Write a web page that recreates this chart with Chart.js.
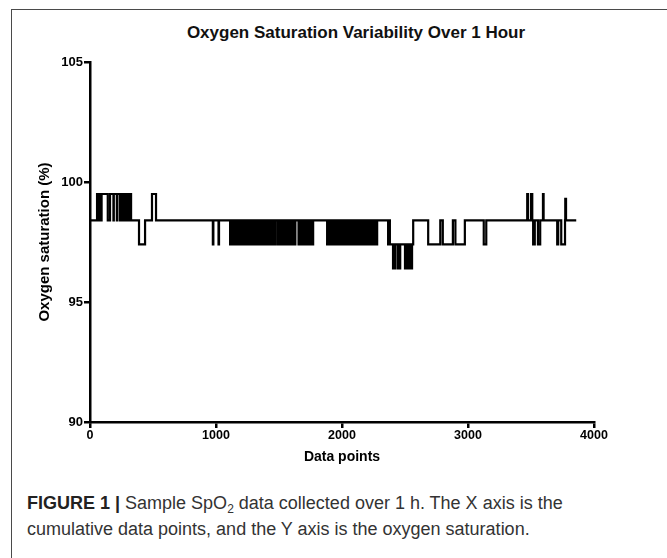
<!DOCTYPE html>
<html>
<head>
<meta charset="utf-8">
<script src="https://cdn.jsdelivr.net/npm/chart.js@4/dist/chart.umd.min.js"></script>
<style>
  html, body { margin: 0; padding: 0; background: #fff; }
  body { width: 667px; height: 558px; position: relative; overflow: hidden; }
  #frame { position: absolute; left: 11px; top: 9px; width: 720px; height: 600px; border: 1px solid #4a4a4a; }
  #title { position: absolute; left: 0; width: 712px; top: 23px; text-align: center;
           font: bold 17px "Liberation Sans", Arial, sans-serif; color: #111; line-height: 20px; }
  #cv { position: absolute; left: 0; top: 0; }
  #caption { position: absolute; left: 27px; top: 490px; font-family: "Liberation Sans Narrow", "Liberation Sans", sans-serif;
             font-size: 18px; line-height: 26px; color: #333; white-space: nowrap; }
  #caption b { color: #222; }
  #caption sub { font-size: 12px; line-height: 0; vertical-align: -4px; }
</style>
</head>
<body>
<div id="frame"></div>
<div id="title">Oxygen Saturation Variability Over 1 Hour</div>
<canvas id="cv" width="667" height="480"></canvas>
<div id="caption"><b>FIGURE 1 |</b> Sample SpO<sub>2</sub> data collected over 1 h. The X axis is the<br>cumulative data points, and the Y axis is the oxygen saturation.</div>
<script>
// ---- data (sample index ranges [start, end) read from the picture) ----
const levelBase = 98.4;
const levelHigh = 99.5;
const levelLow = 97.4;
const levelDeep = 96.4;
const levelPeak = 99.3;
const lastIndex = 3859;

const highRuns = [
  56, 66, 74, 84, 92, 141,
  159, 186, 189, 213, 216, 237, 240, 257, 260, 272, 276, 286, 290, 300, 304, 314, 318, 326,
  492, 524,
  3470, 3476, 3500, 3510,
  3595, 3600
];
const peakRuns = [3772, 3778];
const lowRuns = [
  389, 437,
  975, 979, 1020, 1024,
  1112, 1120, 1128, 1136, 1144, 1152, 1160, 1168, 1176, 1184, 1192, 1200, 1208, 1216,
  1224, 1232, 1240, 1250, 1256, 1264, 1272, 1280, 1288, 1296, 1304, 1312, 1320, 1328,
  1336, 1344, 1352, 1360, 1368, 1376, 1384, 1392, 1400, 1408, 1416, 1424, 1432, 1440,
  1448, 1456, 1464, 1472, 1490, 1494, 1510, 1518, 1526, 1534, 1542, 1550, 1558, 1566,
  1574, 1582, 1590, 1598, 1606, 1614, 1622, 1630, 1655, 1663, 1671, 1679, 1687, 1695,
  1703, 1711, 1719, 1727, 1735, 1743, 1751, 1759, 1765, 1771,
  1882, 1890, 1898, 1906, 1914, 1922, 1930, 1938, 1946, 1954, 1962, 1970, 1978, 1986,
  1994, 2002, 2010, 2018, 2026, 2034, 2042, 2050, 2058, 2066, 2074, 2082, 2090, 2098,
  2106, 2114, 2122, 2130, 2138, 2146, 2154, 2162, 2170, 2178, 2186, 2194, 2202, 2210,
  2218, 2226, 2234, 2242, 2250, 2258, 2266, 2279,
  2366, 2372, 2380, 2565,
  2684, 2780, 2800, 2880, 2900, 2975,
  3125, 3145,
  3517, 3530, 3555, 3573,
  3708, 3716, 3740, 3770
];
const deepRuns = [
  2405, 2412, 2416, 2424, 2444, 2452, 2456, 2462,
  2500, 2508, 2512, 2520, 2526, 2534, 2540, 2556
];
const xTicks = [0, 1000, 2000, 3000, 4000];
const yTicks = [90, 95, 100, 105];

// ---- build step series ----
function inRuns(runs, i) {
  for (let k = 0; k < runs.length; k += 2) if (i >= runs[k] && i < runs[k + 1]) return true;
  return false;
}
function levelAt(i) {
  if (inRuns(deepRuns, i)) return levelDeep;
  if (inRuns(lowRuns, i)) return levelLow;
  if (inRuns(peakRuns, i)) return levelPeak;
  if (inRuns(highRuns, i)) return levelHigh;
  return levelBase;
}
const bounds = Array.from(new Set([0, ...highRuns, ...peakRuns, ...lowRuns, ...deepRuns]))
  .filter(b => b < lastIndex).sort((a, b) => a - b);
const points = bounds.map(b => ({ x: b, y: levelAt(b) }));
points.push({ x: lastIndex, y: levelAt(lastIndex - 1) });

const fam = '"Liberation Sans", Arial, sans-serif';
new Chart(document.getElementById('cv'), {
  type: 'line',
  data: { datasets: [{ data: points, stepped: true, borderColor: '#000', borderWidth: 2.2,
                       pointRadius: 0, fill: false, tension: 0 }] },
  options: {
    responsive: false, animation: false, devicePixelRatio: 1,
    layout: { padding: { left: 0, right: 73, top: 62, bottom: 8 } },
    plugins: { legend: { display: false }, tooltip: { enabled: false }, title: { display: false } },
    scales: {
      x: {
        type: 'linear', min: 0, max: 4000,
        afterBuildTicks: s => { s.ticks = xTicks.map(v => ({ value: v })); },
        afterFit: s => { s.height = 50; },
        border: { color: '#000', width: 2.5 },
        grid: { display: true, drawOnChartArea: false, drawTicks: true, tickLength: 6, color: '#000', lineWidth: 2.5 },
        ticks: { color: '#000', font: { family: fam, size: 12.5, weight: 'bold' }, padding: 0, maxRotation: 0,
                 callback: v => String(v) },
        title: { display: true, text: 'Data points', color: '#000',
                 font: { family: fam, size: 14, weight: 'bold' },
                 padding: { top: 0, bottom: 6 } }
      },
      y: {
        min: 90, max: 105,
        afterBuildTicks: s => { s.ticks = yTicks.map(v => ({ value: v })); },
        afterFit: s => { s.width = 90; },
        border: { color: '#000', width: 2.5 },
        grid: { display: true, drawOnChartArea: false, drawTicks: true, tickLength: 6, color: '#000', lineWidth: 2.5 },
        ticks: { color: '#000', font: { family: fam, size: 13, weight: 'bold' }, padding: 1,
                 callback: v => String(v) },
        title: { display: true, text: 'Oxygen saturation (%)', color: '#000',
                 font: { family: fam, size: 15, weight: 'bold' },
                 padding: { top: 36, bottom: 0 } }
      }
    }
  }
});
</script>
</body>
</html>
